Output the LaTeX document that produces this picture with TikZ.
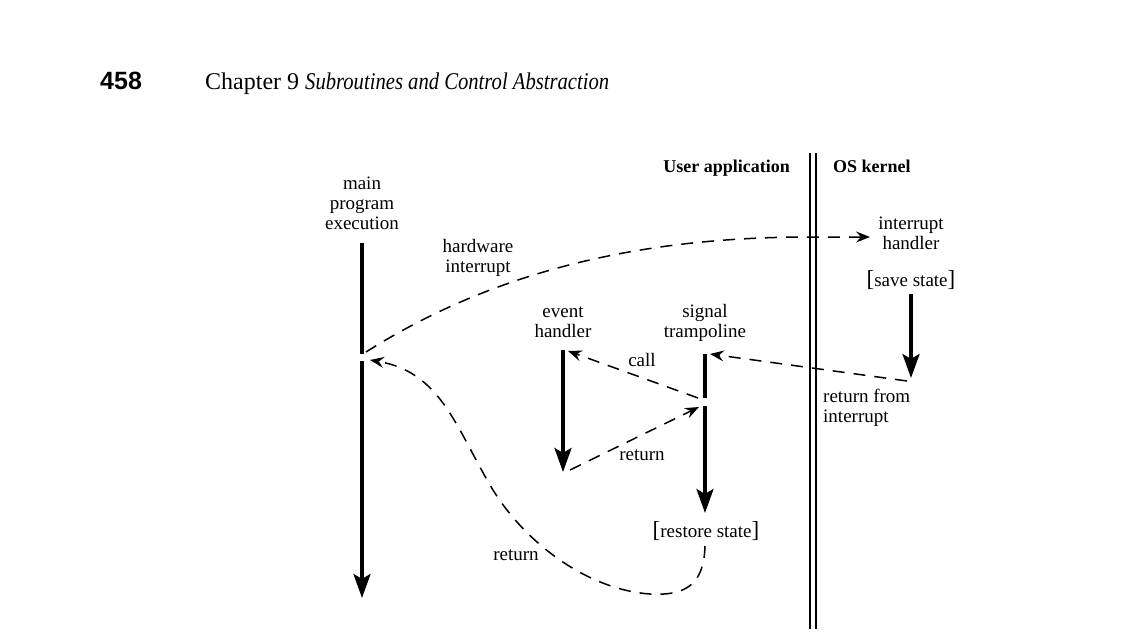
\documentclass[tikz,border=0pt]{standalone}
\usepackage{fontspec}
\usepackage{graphicx}
\setmainfont{Liberation Serif}
\newfontfamily\pagenumfont{Liberation Sans}
\usetikzlibrary{arrows.meta}
\newcommand{\bigbr}[1]{{\fontsize{23}{23}\selectfont #1}}
\begin{document}
\begin{tikzpicture}[x=1pt,y=-1pt,
  lbl/.style={font=\fontsize{19}{20}\selectfont, align=center, inner sep=0pt},
  hd/.style={font=\fontsize{18}{20}\selectfont\bfseries, inner sep=0pt},
  flow/.style={line width=3.6pt, -{Stealth[length=24pt,width=17pt,inset=5pt]}},
  flowplain/.style={line width=3.6pt},
  jump/.style={line width=1.5pt, dash pattern=on 12pt off 9pt, -{Stealth[length=14pt,width=11pt,inset=5pt]}},
  boundary/.style={line width=1.6pt},
]
\useasboundingbox (0,0) rectangle (1128,642);

% header
\node[anchor=base west, inner sep=0pt, font={\pagenumfont\bfseries\fontsize{25}{25}\selectfont}] (pg) at (100,90) {458};
\node[anchor=base west, inner sep=0pt, font={\fontsize{24}{26}\selectfont}] (ch) at (205,90) {Chapter 9};
\node[anchor=base west, inner sep=0pt, font={\fontsize{24}{26}\selectfont\itshape}] (ti) at (305,90) {\scalebox{0.86}[1]{Subroutines and Control Abstraction}};

% column headings
\node[hd, anchor=base east] (user) at (790,172) {User application};
\node[hd, anchor=base west] (os) at (833,172) {OS kernel};

% boundary
\coordinate (bA1) at (810,153); \coordinate (bA2) at (810,629);
\coordinate (bB1) at (816,153); \coordinate (bB2) at (816,629);
\draw[boundary] (bA1) -- (bA2);
\draw[boundary] (bB1) -- (bB2);

% labels
\node[lbl] (main) at (362,203) {main\\program\\execution};
\node[lbl] (hw) at (478,258) {hardware\\interrupt};
\node[lbl] (ih) at (911,233) {interrupt\\handler};
\node[lbl] (save) at (911,280) {\bigbr{[}save state\bigbr{]}};
\node[lbl, align=left, anchor=west] (rfi) at (823,408) {return from\\interrupt};
\node[lbl] (eh) at (563,322) {event\\handler};
\node[lbl] (st) at (705,323) {signal\\trampoline};
\node[lbl] (calllbl) at (642,360) {call};
\node[lbl] (retlbl) at (642,455) {return};
\node[lbl] (restore) at (706,531) {\bigbr{[}restore state\bigbr{]}};
\node[lbl] (retmain) at (516,555) {return};

% main program line
\coordinate (mTop) at (362,243);
\coordinate (mGapA) at (362,354);
\coordinate (mGapB) at (362,361);
\coordinate (mEnd) at (362,598);
\draw[flowplain] (mTop) -- (mGapA);
\draw[flow] (mGapB) -- (mEnd);

% hardware interrupt
\coordinate (hwStart) at (366,352);
\coordinate (ihIn) at (870,237);
\draw[jump] (hwStart) .. controls (480,280) and (620,237) .. (810,237) -- (ihIn);

% kernel
\coordinate (kTop) at (911,294);
\coordinate (kEnd) at (911,378);
\draw[flow] (kTop) -- (kEnd);
\coordinate (kOut) at (907,381);
\coordinate (tIn) at (710,354);
\draw[jump] (kOut) -- (tIn);

% trampoline
\coordinate (tTop) at (705,354);
\coordinate (tGapA) at (705,398);
\coordinate (tGapB) at (705,406);
\coordinate (tEnd) at (705,513);
\draw[flowplain] (tTop) -- (tGapA);
\draw[flow] (tGapB) -- (tEnd);

% event handler
\coordinate (eTop) at (563,350);
\coordinate (eEnd) at (563,472);
\draw[flow] (eTop) -- (eEnd);

% call / return
\coordinate (callFrom) at (698,398);
\coordinate (callTo) at (568,351);
\draw[jump] (callFrom) -- (callTo);
\coordinate (retFrom) at (570,470);
\coordinate (retTo) at (699,407);
\draw[jump] (retFrom) -- (retTo);

% return to main
\coordinate (rsOut) at (705,546);
\coordinate (mIn) at (370,360);
\draw[jump] (rsOut) .. controls (704,585) and (685,596) .. (650,594)
  .. controls (590,590) and (525,545) .. (490,485)
  .. controls (455,425) and (440,372) .. (mIn);
\end{tikzpicture}
\end{document}
